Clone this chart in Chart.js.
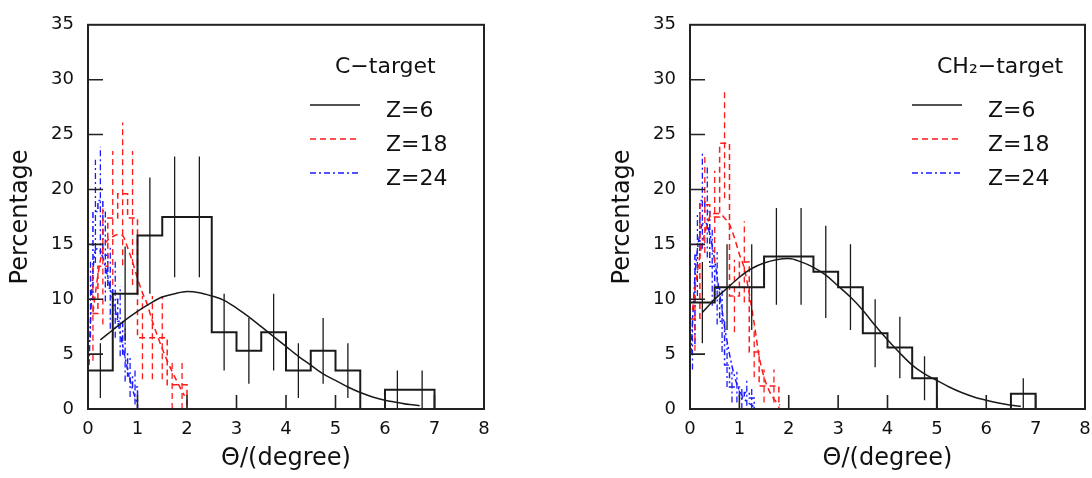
<!DOCTYPE html>
<html>
<head>
<meta charset="utf-8">
<script src="https://cdn.jsdelivr.net/npm/chart.js@4.4.1/dist/chart.umd.min.js"></script>
<style>
  html, body { margin: 0; padding: 0; background: #fff; overflow: hidden; }
  #wrap { position: relative; width: 1092px; height: 478px; overflow: hidden; }
  #left { position: absolute; left: 0; top: 0; }
  #right { position: absolute; left: 602px; top: 0; }
</style>
</head>
<body>
<div id="wrap">
  <canvas id="left" width="546" height="478"></canvas>
  <canvas id="right" width="520" height="478"></canvas>
</div>
<script>
// axis ticks and labels
const xTicks = [0, 1, 2, 3, 4, 5, 6, 7, 8];
const yTicks = [0, 5, 10, 15, 20, 25, 30, 35];
const xTitle = 'Θ/(degree)';
const yTitle = 'Percentage';
const legendLabels = ['Z=6', 'Z=18', 'Z=24'];
const panelTitles = ['C−target', 'CH₂−target'];

// Z=6 histograms (0.5 deg bins)
const binsZ6 = [0, 0.5, 1, 1.5, 2, 2.5, 3, 3.5, 4, 4.5, 5, 5.5, 6, 6.5, 7];
const cZ6 = [3.5, 10.5, 15.8, 17.5, 17.5, 7.0, 5.3, 7.0, 3.5, 5.3, 3.5, 0, 1.75, 1.75];
const cZ6Err = [2.5, 4.3, 5.3, 5.5, 5.5, 3.5, 3.0, 3.5, 2.5, 3.0, 2.5, 0, 1.75, 1.75];
const ch2Z6 = [9.7, 11.1, 11.1, 13.9, 13.9, 12.5, 11.1, 6.9, 5.6, 2.8, 0, 0, 0, 1.4];
const ch2Z6Err = [3.7, 3.9, 3.9, 4.4, 4.4, 4.2, 3.9, 3.1, 2.8, 2.0, 0, 0, 0, 1.4];

// Z=6 fitted curves
const fitZ6X = [0.25, 0.5, 0.75, 1, 1.25, 1.5, 1.75, 2, 2.25, 2.5, 2.75, 3, 3.25, 3.5,
                3.75, 4, 4.25, 4.5, 4.75, 5, 5.25, 5.5, 5.75, 6, 6.25, 6.5, 6.7];
const cZ6Fit = [6.3, 7.2, 8.1, 8.9, 9.6, 10.2, 10.5, 10.7, 10.6, 10.3, 9.9, 9.2, 8.4, 7.5,
                6.6, 5.7, 4.8, 4.0, 3.2, 2.6, 2.0, 1.5, 1.1, 0.8, 0.6, 0.4, 0.3];
const ch2Z6Fit = [8.8, 10.0, 11.0, 12.0, 12.8, 13.3, 13.6, 13.7, 13.4, 12.9, 12.2, 11.2, 10.2, 9.0,
                  7.6, 6.3, 5.1, 4.0, 3.2, 2.6, 2.0, 1.5, 1.1, 0.8, 0.55, 0.35, 0.25];

// Z=18 histograms (0.2 deg bins)
const binsZ18 = [0, 0.2, 0.4, 0.6, 0.8, 1.0, 1.2, 1.4, 1.6, 1.8, 2.0];
const cZ18 = [8.7, 13.0, 17.4, 19.6, 17.4, 6.5, 6.5, 6.5, 2.2, 2.2];
const cZ18Err = [4.3, 5.3, 6.1, 6.5, 6.1, 3.8, 3.8, 3.8, 2.2, 2.2];
const ch2Z18 = [8.2, 18.6, 17.5, 24.2, 10.3, 13.4, 5.2, 2.1, 2.1, 0];
const ch2Z18Err = [2.9, 4.4, 4.2, 5.0, 3.3, 3.7, 2.3, 1.5, 1.5, 0];

const cZ18FitX = [0.1, 0.2, 0.3, 0.4, 0.5, 0.6, 0.7, 0.8, 0.9, 1.0, 1.1, 1.2, 1.3, 1.4,
                  1.5, 1.6, 1.7, 1.8, 1.9, 1.95];
const cZ18Fit = [8.8, 12.2, 14.6, 15.4, 15.7, 15.9, 15.8, 14.7, 13.4, 11.9, 10.6, 9.5, 8.0, 6.7,
                 5.5, 4.4, 3.4, 2.5, 1.6, 1.2];
const ch2Z18FitX = [0.05, 0.2, 0.3, 0.4, 0.5, 0.6, 0.7, 0.8, 0.9, 1.0, 1.1, 1.2, 1.3, 1.4,
                    1.5, 1.6, 1.7, 1.82];
const ch2Z18Fit = [9, 14, 16, 17.5, 17.8, 17.8, 17.4, 16.8, 15.6, 14.1, 12.8, 10.5, 7.8, 4.8,
                   2.9, 1.7, 0.9, 0.35];

// Z=24 histograms (0.1 deg bins)
const binsZ24 = [0, 0.1, 0.2, 0.3, 0.4, 0.5, 0.6, 0.7, 0.8, 0.9, 1.0, 1.1, 1.2, 1.3];
const cZ24 = [10, 18, 19, 14, 11, 10, 8, 5, 3, 2, 0, 0, 0];
const cZ24Err = [3.5, 4.7, 4.9, 4.2, 3.7, 3.5, 3.2, 2.5, 1.9, 1.6, 0, 0, 0];
const ch2Z24 = [6, 14, 19, 18, 13, 11, 8, 4, 2, 2, 1, 1.5, 1];
const ch2Z24Err = [2.4, 3.7, 4.4, 4.2, 3.6, 3.3, 2.8, 2.0, 1.4, 1.4, 1.0, 1.2, 1.0];

const cZ24FitX = [0.02, 0.05, 0.1, 0.15, 0.2, 0.3, 0.4, 0.5, 0.6, 0.7, 0.8, 0.9, 1.0];
const cZ24Fit = [4, 8, 12.5, 14.5, 14.6, 13.8, 12, 10, 8, 5.8, 3.6, 1.8, 0.4];
const ch2Z24FitX = [0.02, 0.1, 0.2, 0.3, 0.4, 0.5, 0.6, 0.7, 0.8, 0.9, 1.0, 1.1, 1.2, 1.3];
const ch2Z24Fit = [5, 12, 16, 17, 16, 13.5, 10.5, 7.5, 5, 3, 1.7, 0.9, 0.5, 0.2];

const FONT = 'DejaVu Sans';
const BLACK = '#1a1a1a';
const RED = '#ff1a1a';
const BLUE = '#1a1aff';
const DASH = [6, 4];
const DASHDOT = [6, 3, 2, 3];

function histPoints(edges, vals) {
    const pts = [{ x: edges[0], y: 0 }];
    vals.forEach((v, i) => pts.push({ x: edges[i], y: v }));
    pts.push({ x: edges[vals.length], y: 0 });
    return pts;
}

function errPoints(edges, vals, errs) {
    const pts = [];
    vals.forEach((v, i) => {
        if (!errs[i]) return;
        const xc = (edges[i] + edges[i + 1]) / 2;
        pts.push({ x: xc, y: Math.max(0, v - errs[i]) }, { x: xc, y: v + errs[i] }, { x: xc, y: null });
    });
    return pts;
}

function curvePoints(xs, ys) {
    return xs.map((x, i) => ({ x: x, y: ys[i] }));
}

function histSets(edges, vals, errs, fx, fy, color, dash, width) {
    return [
        { data: histPoints(edges, vals), borderColor: color, borderWidth: width, borderDash: dash, stepped: true },
        { data: errPoints(edges, vals, errs), borderColor: color, borderWidth: 1.3, borderDash: dash, spanGaps: false },
        { data: curvePoints(fx, fy), borderColor: color, borderWidth: 1.5, borderDash: dash, cubicInterpolationMode: 'monotone' }
    ];
}

// frame, inner ticks and the legend block
const panelPlugin = {
    id: 'panel',
    afterDatasetsDraw(chart, args, opts) {
        const { ctx, chartArea: a, scales: { x, y } } = chart;
        ctx.save();
        ctx.setLineDash([]);
        ctx.strokeStyle = '#222';
        ctx.lineWidth = 2;
        ctx.strokeRect(a.left, a.top, a.right - a.left, a.bottom - a.top);

        ctx.lineWidth = 1.6;
        ctx.beginPath();
        xTicks.slice(1, -1).forEach(v => {
            const px = x.getPixelForValue(v);
            ctx.moveTo(px, a.bottom);
            ctx.lineTo(px, a.bottom - 14);
        });
        yTicks.slice(1, -1).forEach(v => {
            const py = y.getPixelForValue(v);
            ctx.moveTo(a.left, py);
            ctx.lineTo(a.left + 15, py);
        });
        ctx.stroke();

        // legend
        ctx.fillStyle = '#111';
        ctx.textBaseline = 'alphabetic';
        ctx.font = '22px "' + FONT + '"';
        ctx.fillText(opts.title, 335, 73);
        const styles = [[BLACK, []], [RED, DASH], [BLUE, DASHDOT]];
        legendLabels.forEach((lab, i) => {
            const ly = 105 + i * 34;
            ctx.strokeStyle = styles[i][0];
            ctx.setLineDash(styles[i][1]);
            ctx.lineWidth = 1.6;
            ctx.beginPath();
            ctx.moveTo(310, ly);
            ctx.lineTo(360, ly);
            ctx.stroke();
            ctx.fillText(lab, 386, ly + 12);
        });
        ctx.restore();
    }
};

function makePanel(id, title, rightPad, sets) {
    new Chart(document.getElementById(id), {
        type: 'line',
        data: { datasets: sets.map(s => Object.assign({ pointRadius: 0, fill: false }, s)) },
        options: {
            responsive: false,
            animation: false,
            events: [],
            layout: { padding: { top: 15, right: rightPad, left: 0, bottom: 0 } },
            plugins: {
                legend: { display: false },
                tooltip: { enabled: false },
                panel: { title: title }
            },
            scales: {
                x: {
                    type: 'linear', min: 0, max: 8,
                    afterBuildTicks: s => { s.ticks = xTicks.map(v => ({ value: v })); },
                    afterFit: s => { s.height = 69; },
                    grid: { display: false, drawTicks: false },
                    border: { display: false },
                    ticks: { padding: 10, color: '#111', maxRotation: 0, autoSkip: false, font: { family: FONT, size: 18 } },
                    title: { display: true, text: xTitle, color: '#111', font: { family: FONT, size: 24 }, padding: { top: 0, bottom: 5 } }
                },
                y: {
                    type: 'linear', min: 0, max: 35,
                    afterBuildTicks: s => { s.ticks = yTicks.map(v => ({ value: v })); },
                    afterFit: s => { s.width = 88; },
                    grid: { display: false, drawTicks: false },
                    border: { display: false },
                    ticks: { padding: 14, color: '#111', font: { family: FONT, size: 18 } },
                    title: { display: true, text: yTitle, color: '#111', font: { family: FONT, size: 24 }, padding: { top: 6, bottom: 0 } }
                }
            }
        },
        plugins: [panelPlugin]
    });
}

makePanel('left', panelTitles[0], 62, [
    ...histSets(binsZ6, cZ6, cZ6Err, fitZ6X, cZ6Fit, BLACK, [], 2),
    ...histSets(binsZ18, cZ18, cZ18Err, cZ18FitX, cZ18Fit, RED, DASH, 1.5),
    ...histSets(binsZ24, cZ24, cZ24Err, cZ24FitX, cZ24Fit, BLUE, DASHDOT, 1.5)
]);

makePanel('right', panelTitles[1], 37, [
    ...histSets(binsZ6, ch2Z6, ch2Z6Err, fitZ6X, ch2Z6Fit, BLACK, [], 2),
    ...histSets(binsZ18, ch2Z18, ch2Z18Err, ch2Z18FitX, ch2Z18Fit, RED, DASH, 1.5),
    ...histSets(binsZ24, ch2Z24, ch2Z24Err, ch2Z24FitX, ch2Z24Fit, BLUE, DASHDOT, 1.5)
]);
</script>
</body>
</html>
